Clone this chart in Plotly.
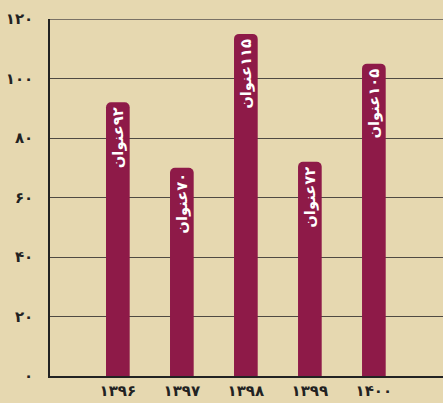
import plotly.graph_objects as go

years = ["۱۳۹۶", "۱۳۹۷", "۱۳۹۸", "۱۳۹۹", "۱۴۰۰"]
values = [92, 70, 115, 72, 105]
bar_labels = ["\u200f۹۲عنوان", "\u200f۷۰عنوان", "\u200f۱۱۵عنوان", "\u200f۷۲عنوان", "\u200f۱۰۵عنوان"]
y_ticks = [0, 20, 40, 60, 80, 100, 120]
y_tick_labels = ["۰", "۲۰", "۴۰", "۶۰", "۸۰", "۱۰۰", "۱۲۰"]

fig = go.Figure(go.Bar(
    x=list(range(len(years))),
    y=values,
    text=bar_labels,
    textposition="inside",
    insidetextanchor="end",
    textangle=-90,
    textfont=dict(family="DejaVu Sans", size=15, color="white", weight="bold"),
    marker=dict(color="#8E1A48", line=dict(width=0)),
    width=0.37,
    hoverinfo="skip",
))

# top gridline at the highest tick (plot edge)
fig.add_shape(type="line", xref="paper", yref="y", x0=0, x1=1,
              y0=y_ticks[-1], y1=y_ticks[-1],
              line=dict(color="#7a7266", width=2), layer="below")

fig.update_layout(
    width=443, height=403,
    margin=dict(l=50, r=0, t=19, b=27),
    paper_bgcolor="#E6D8B0",
    plot_bgcolor="#E6D8B0",
    barcornerradius=5,
    showlegend=False,
    xaxis=dict(
        range=[-1.06, 5.08],
        tickmode="array",
        tickvals=list(range(len(years))),
        ticktext=years,
        tickfont=dict(family="DejaVu Sans", size=15, color="#222", weight="bold"),
        showgrid=False,
        showline=True, linecolor="#222", linewidth=1.5,
        ticks="", zeroline=False, automargin=False,
    ),
    yaxis=dict(
        range=[0, 120],
        tickmode="array",
        tickvals=y_ticks,
        ticktext=y_tick_labels,
        tickfont=dict(family="DejaVu Sans", size=15, color="#222", weight="bold"),
        showgrid=True, gridcolor="#4f4a42", gridwidth=1.3,
        showline=True, linecolor="#222", linewidth=1.5,
        ticks="outside", ticklen=12, tickcolor="rgba(0,0,0,0)",
        zeroline=False, automargin=False,
    ),
    uniformtext=dict(minsize=8, mode="show"),
)

fig.write_html(
    "out.html",
    config={"displayModeBar": False},
    post_script="document.body.style.margin='0';document.body.style.overflow='hidden';",
)
